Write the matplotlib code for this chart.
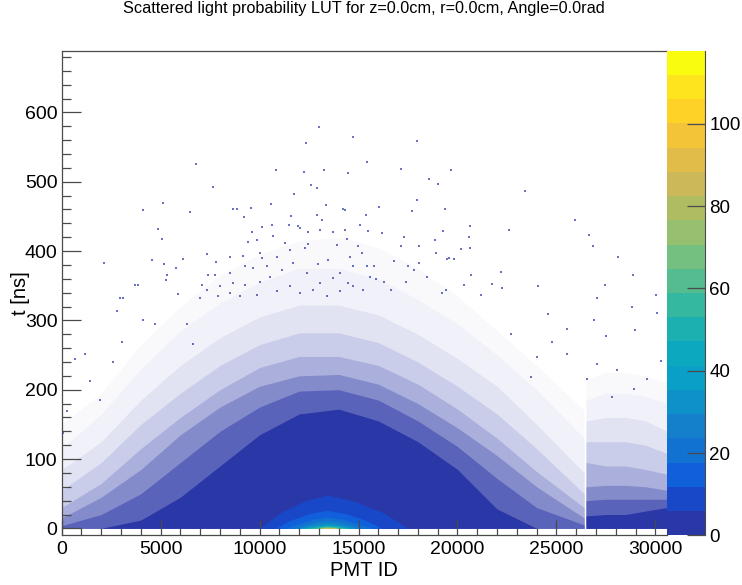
import matplotlib
matplotlib.use("Agg")
import matplotlib.pyplot as plt
from matplotlib.colors import BoundaryNorm, ListedColormap, to_rgb
from matplotlib.cm import ScalarMappable
from matplotlib.ticker import MultipleLocator

TITLE = "Scattered light probability LUT for z=0.0cm, r=0.0cm, Angle=0.0rad"

# 20 colour bands of the z scale, bottom to top
band_colors = [
    "#2a37a6", "#1848c8", "#1060dc", "#1272d2", "#1480cc",
    "#0e90c8", "#0a9fc6", "#0ca8c0", "#1cb0b0", "#34b8a0",
    "#54bc8e", "#74c080", "#96c070", "#b0bc62", "#ccb858",
    "#e2bc48", "#f4c438", "#ffd228", "#fde41c", "#fafc10",
]
z_max = 117.8
z_ticks = [0, 20, 40, 60, 80, 100]

# how densely the pixels are filled, read by eye as t contours per PMT ID
pmt_left = [0, 2000, 4000, 6000, 8000, 10000, 12000, 14000, 16000, 18000, 20000, 22000, 24000, 26400]
t_fill_1 = [150, 195, 265, 320, 365, 395, 415, 420, 405, 375, 335, 285, 235, 170]
t_fill_3 = [115, 165, 230, 285, 325, 355, 375, 375, 360, 330, 295, 250, 200, 130]
t_fill_7 = [85, 125, 185, 235, 275, 305, 322, 322, 308, 280, 245, 205, 150, 80]
t_fill_15 = [55, 95, 150, 195, 235, 265, 282, 282, 268, 240, 205, 165, 115, 50]
t_fill_30 = [30, 65, 115, 160, 200, 232, 248, 248, 235, 208, 172, 130, 82, 30]
t_fill_50 = [15, 45, 85, 135, 175, 205, 220, 222, 208, 180, 145, 105, 60, 15]
t_fill_70 = [4, 20, 50, 95, 140, 175, 198, 200, 185, 155, 118, 72, 30, 5]
t_fill_90 = [0, 0, 12, 45, 90, 135, 165, 172, 155, 125, 85, 28, 0, 0]

pmt_right = [26500, 27500, 28500, 29500, 30590]
r_fill_1 = [215, 225, 225, 220, 210]
r_fill_3 = [185, 195, 195, 190, 180]
r_fill_7 = [155, 160, 160, 155, 140]
r_fill_15 = [125, 125, 125, 120, 108]
r_fill_30 = [95, 90, 90, 85, 78]
r_fill_50 = [60, 62, 62, 60, 55]
r_fill_70 = [40, 42, 42, 42, 42]
r_fill_90 = [18, 20, 20, 25, 30]

fill_shades = [0.03, 0.07, 0.14, 0.25, 0.4, 0.58, 0.78, 1.0]

# hot spot at the bottom: z level, then PMT IDs and t of the dome
hot_levels = [6, 12, 18, 24, 30, 42, 54, 72, 90]
hot_pmt = [
    [10000, 11000, 12300, 13400, 14700, 16300, 17500],
    [10800, 11500, 12500, 13400, 14400, 15400, 16200],
    [11300, 11900, 12700, 13400, 14200, 15000, 15700],
    [11700, 12200, 12800, 13400, 14100, 14700, 15200],
    [11900, 12400, 12900, 13400, 14000, 14500, 14900],
    [12000, 12500, 13000, 13400, 13900, 14300, 14700],
    [12300, 12700, 13100, 13400, 13800, 14200, 14500],
    [12800, 13000, 13200, 13400, 13700, 14000, 14200],
    [13100, 13200, 13300, 13400, 13600, 13800, 14000],
]
hot_t = [
    [0, 22, 40, 48, 40, 22, 0],
    [0, 11, 21, 26, 21, 11, 0],
    [0, 6, 13, 16, 13, 6, 0],
    [0, 4, 9, 11, 9, 4, 0],
    [0, 3, 6, 8, 6, 3, 0],
    [0, 2, 4, 5, 4, 2, 0],
    [0, 1.2, 2.8, 3.5, 2.8, 1.2, 0],
    [0, 0.8, 1.5, 2, 1.5, 0.8, 0],
    [0, 0.4, 0.8, 1, 0.8, 0.4, 0],
]

stray_pmt = [
    13010, 12370, 14730, 6770, 15450, 10820, 12260, 13250, 14480, 7660, 12610, 12900,
    11730, 5140, 4120, 6500, 8640, 8840, 9560, 10560, 13350, 14230, 14340, 15400, 12910,
    13180, 9210, 11580, 11500, 11950, 15070, 15490, 4880, 5080, 2150, 4580, 6110, 5190,
    5780, 5300, 5270, 3700, 3870, 2950, 3110, 5890, 17960, 17150, 19680, 18570, 19000,
    23410, 17960, 16040, 19360, 17690, 25920, 26660, 26850, 22600, 20620, 19260, 17300,
    18870, 20600, 20200, 20620, 28110, 28850, 27450, 24070, 22220, 30030, 27060, 21760,
    22270, 18060, 19490,
    7323, 7795, 8502, 9175, 10017, 10101, 10859, 11532, 12290, 12458, 11279, 10690, 9428,
    9849, 9630, 10101, 10606, 12037, 12458, 13720, 14310, 13047, 14427, 13889, 14983,
    12963, 13468, 14562, 15151, 15404, 14057, 13047, 13720, 14731, 14478, 15236, 15572,
    9259, 9680, 10354, 11111, 11700, 12374, 7407, 7744, 8502, 7071, 7323, 7997, 8670,
    9259, 10017, 10522, 10859, 11532, 12037, 12711, 13384, 14057, 14731, 9007, 9849,
    8502, 7912, 6987,
    16293, 17387, 17808, 17505, 18481, 18902, 19407, 20332, 20669, 21174, 15788, 16798,
    16209, 17135, 18060, 19575, 19828, 15872, 16630, 19238,
    24570, 25550, 26896, 28832, 30094, 27485, 28990, 22690, 24792, 25550, 26560, 28074,
    29589, 30262, 24035, 27064, 28916, 27822, 23698,
    2778, 3030, 4125, 1178, 2609, 1431, 673, 1936, 4714, 6313, 6650, 84, 253,
]
stray_t = [
    579, 556, 565, 525, 529, 517, 514, 517, 512, 493, 495, 491,
    482, 470, 459, 457, 461, 460, 462, 468, 467, 460, 459, 452, 452,
    445, 449, 450, 438, 436, 438, 429, 432, 418, 383, 387, 388, 382,
    376, 365, 358, 351, 351, 333, 332, 338, 559, 518, 517, 504, 497,
    487, 473, 464, 461, 458, 445, 423, 407, 431, 436, 429, 420,
    416, 420, 403, 404, 391, 365, 351, 349, 370, 337, 332, 353,
    346, 383, 388,
    396, 384, 392, 393, 397, 390, 392, 402, 404, 410, 412, 422, 413,
    416, 427, 434, 437, 433, 428, 427, 431, 431, 417, 409, 407,
    382, 387, 392, 397, 378, 368, 354, 361, 378, 354, 344, 363,
    379, 375, 378, 373, 383, 368, 366, 366, 369, 351, 344, 349, 354,
    351, 356, 363, 342, 349, 339, 344, 335, 342, 349, 335, 337,
    339, 335, 332,
    356, 356, 373, 378, 363, 397, 344, 351, 366, 337, 378, 385,
    426, 407, 407, 390, 388, 359, 344, 339,
    309, 288, 300, 319, 310, 278, 286, 281, 269, 252, 216, 228,
    216, 242, 247, 237, 201, 189, 218,
    314, 269, 300, 252, 240, 213, 245, 185, 295, 295, 266, 137, 170,
]


def shade(amount):
    """mix the lowest band colour with white"""
    base = to_rgb(band_colors[0])
    return tuple(1 - amount * (1 - c) for c in base)


def main():
    plt.rcParams['font.family'] = ['Liberation Sans', 'DejaVu Sans']
    dark = "#4a4a4a"

    fig = plt.figure(figsize=(7.42, 5.85), dpi=100)
    ax = fig.add_axes([61.7 / 742, 1 - 535.3 / 585, (667 - 61.7) / 742, (535.3 - 50.7) / 585])
    cax = fig.add_axes([667 / 742, 1 - 535.3 / 585, (705.3 - 667) / 742, (535.3 - 50.7) / 585])

    left = [t_fill_1, t_fill_3, t_fill_7, t_fill_15, t_fill_30, t_fill_50, t_fill_70, t_fill_90]
    right = [r_fill_1, r_fill_3, r_fill_7, r_fill_15, r_fill_30, r_fill_50, r_fill_70, r_fill_90]
    for t_left, t_right, amount in zip(left, right, fill_shades):
        ax.fill_between(pmt_left, 0, t_left, color=shade(amount), lw=0, zorder=1)
        ax.fill_between(pmt_right, 0, t_right, color=shade(amount), lw=0, zorder=1)

    cmap = ListedColormap(band_colors)
    levels = [z_max * i / 20 for i in range(21)]
    norm = BoundaryNorm(levels, cmap.N)
    for z, xs, ts in zip(hot_levels, hot_pmt, hot_t):
        ax.fill_between(xs, 0, ts, color=cmap(norm(z)), lw=0, zorder=1.5)

    ax.scatter(stray_pmt, stray_t, s=0.8, marker='s', linewidths=0, color=band_colors[0], alpha=0.7, zorder=1.6)

    ax.set_xlim(0, 30590)
    ax.set_ylim(-10, 689)
    ax.xaxis.set_major_locator(MultipleLocator(5000))
    ax.xaxis.set_minor_locator(MultipleLocator(1000))
    ax.yaxis.set_major_locator(MultipleLocator(100))
    ax.yaxis.set_minor_locator(MultipleLocator(20))
    ax.tick_params(axis='x', which='major', direction='in', length=10.6, width=0.9, color=dark, labelsize=14, pad=4)
    ax.tick_params(axis='x', which='minor', direction='in', length=5, width=0.9, color=dark)
    ax.tick_params(axis='y', which='major', direction='in', length=13.5, width=0.9, color=dark, labelsize=14, pad=3)
    ax.tick_params(axis='y', which='minor', direction='in', length=6.5, width=0.9, color=dark)
    for name in ['left', 'bottom', 'top']:
        ax.spines[name].set_color(dark)
        ax.spines[name].set_linewidth(0.9)
    ax.spines['right'].set_visible(False)
    ax.set_xlabel("PMT ID", fontsize=14.5, labelpad=2)
    ax.set_ylabel("t [ns]", fontsize=14.5, labelpad=-4)

    cb = fig.colorbar(ScalarMappable(norm=norm, cmap=cmap), cax=cax, ticks=z_ticks, spacing='proportional')
    cb.outline.set_visible(False)
    cax.spines['right'].set_visible(True)
    cax.spines['right'].set_color(dark)
    cax.minorticks_off()
    cax.tick_params(axis='y', which='major', direction='in', length=13, width=0.9, color=dark, labelsize=13.5, pad=3, right=True)
    cb.ax.set_yticklabels([str(v) for v in z_ticks])

    fig.text(364 / 742, 1 - 9 / 585, TITLE, ha='center', va='center', fontsize=11.7)
    fig.savefig("out.png", dpi=100)


if __name__ == "__main__":
    main()
